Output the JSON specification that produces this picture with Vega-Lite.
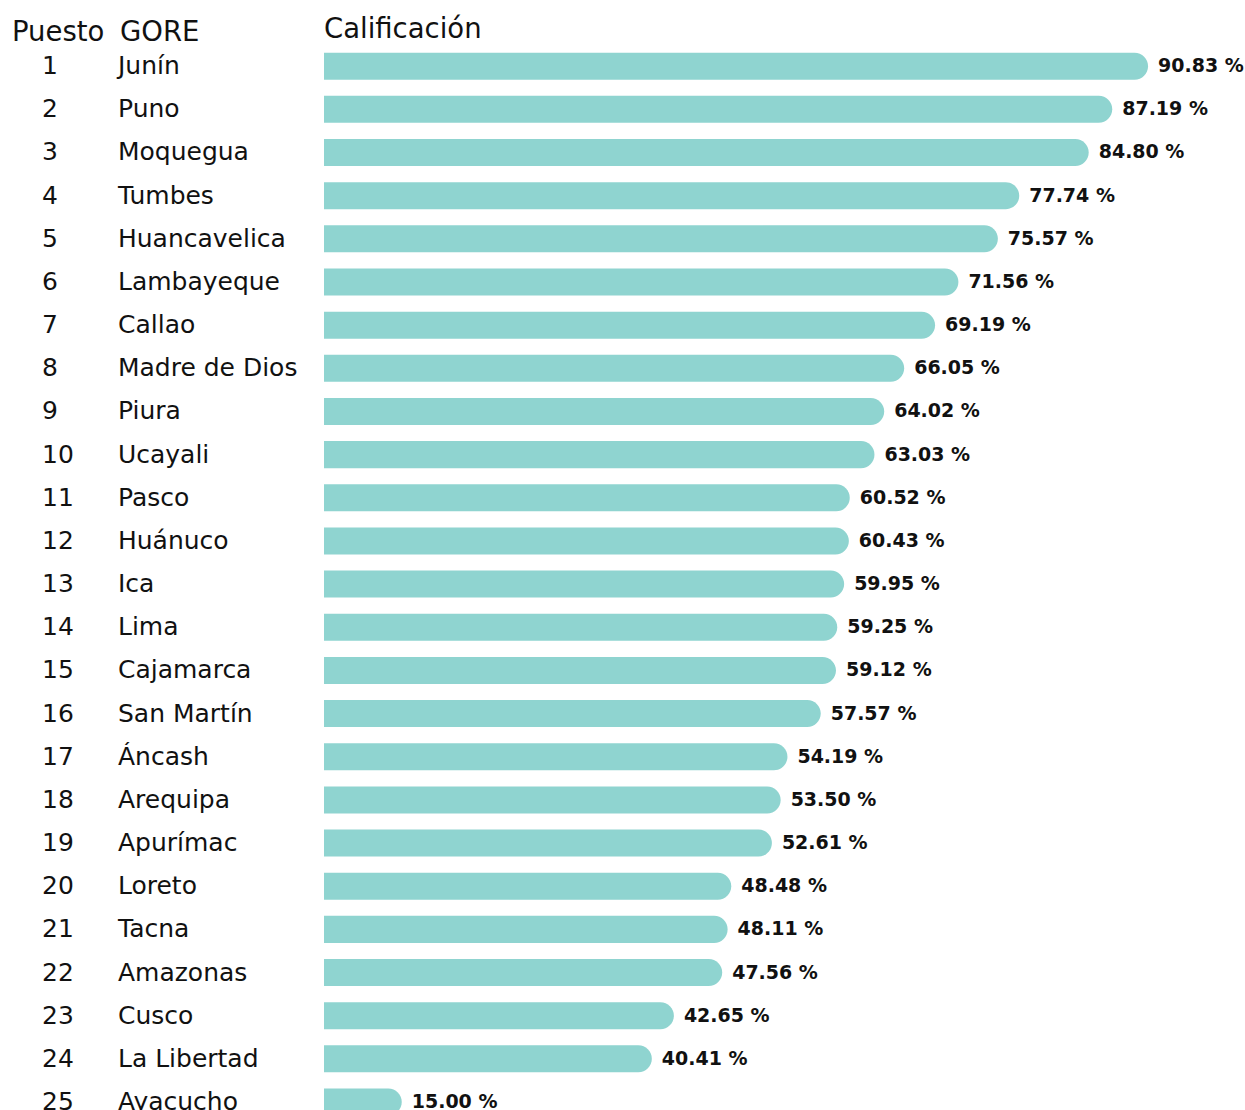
{
  "$schema": "https://vega.github.io/schema/vega-lite/v6.json",
  "autosize": {"type": "pad"},
  "padding": {"left": 12, "top": 15.6, "right": 0, "bottom": 0},
  "background": "white",
  "spacing": 0,
  "bounds": "flush",
  "config": {
    "view": {"stroke": null},
    "font": "DejaVu Sans",
    "title": {"anchor": "start", "baseline": "alphabetic", "fontSize": 27.5, "fontWeight": "normal", "color": "#111111", "font": "DejaVu Sans"}
  },
  "data": {
    "values": [
      {"puesto": 1, "gore": "Junín", "calificacion": 90.83, "etiqueta": "90.83 %"},
      {"puesto": 2, "gore": "Puno", "calificacion": 87.19, "etiqueta": "87.19 %"},
      {"puesto": 3, "gore": "Moquegua", "calificacion": 84.80, "etiqueta": "84.80 %"},
      {"puesto": 4, "gore": "Tumbes", "calificacion": 77.74, "etiqueta": "77.74 %"},
      {"puesto": 5, "gore": "Huancavelica", "calificacion": 75.57, "etiqueta": "75.57 %"},
      {"puesto": 6, "gore": "Lambayeque", "calificacion": 71.56, "etiqueta": "71.56 %"},
      {"puesto": 7, "gore": "Callao", "calificacion": 69.19, "etiqueta": "69.19 %"},
      {"puesto": 8, "gore": "Madre de Dios", "calificacion": 66.05, "etiqueta": "66.05 %"},
      {"puesto": 9, "gore": "Piura", "calificacion": 64.02, "etiqueta": "64.02 %"},
      {"puesto": 10, "gore": "Ucayali", "calificacion": 63.03, "etiqueta": "63.03 %"},
      {"puesto": 11, "gore": "Pasco", "calificacion": 60.52, "etiqueta": "60.52 %"},
      {"puesto": 12, "gore": "Huánuco", "calificacion": 60.43, "etiqueta": "60.43 %"},
      {"puesto": 13, "gore": "Ica", "calificacion": 59.95, "etiqueta": "59.95 %"},
      {"puesto": 14, "gore": "Lima", "calificacion": 59.25, "etiqueta": "59.25 %"},
      {"puesto": 15, "gore": "Cajamarca", "calificacion": 59.12, "etiqueta": "59.12 %"},
      {"puesto": 16, "gore": "San Martín", "calificacion": 57.57, "etiqueta": "57.57 %"},
      {"puesto": 17, "gore": "Áncash", "calificacion": 54.19, "etiqueta": "54.19 %"},
      {"puesto": 18, "gore": "Arequipa", "calificacion": 53.50, "etiqueta": "53.50 %"},
      {"puesto": 19, "gore": "Apurímac", "calificacion": 52.61, "etiqueta": "52.61 %"},
      {"puesto": 20, "gore": "Loreto", "calificacion": 48.48, "etiqueta": "48.48 %"},
      {"puesto": 21, "gore": "Tacna", "calificacion": 48.11, "etiqueta": "48.11 %"},
      {"puesto": 22, "gore": "Amazonas", "calificacion": 47.56, "etiqueta": "47.56 %"},
      {"puesto": 23, "gore": "Cusco", "calificacion": 42.65, "etiqueta": "42.65 %"},
      {"puesto": 24, "gore": "La Libertad", "calificacion": 40.41, "etiqueta": "40.41 %"},
      {"puesto": 25, "gore": "Ayacucho", "calificacion": 15.00, "etiqueta": "15.00 %"}
    ]
  },
  "hconcat": [
    {
      "width": 76,
      "height": 1079,
      "title": {"text": "Puesto", "dx": -30, "offset": -1.5},
      "mark": {"type": "text", "align": "left", "baseline": "middle", "fontSize": 25, "color": "#111111"},
      "encoding": {
        "y": {"field": "puesto", "type": "ordinal", "axis": null, "scale": {"paddingInner": 0.374, "paddingOuter": 0.187}},
        "x": {"datum": 0, "type": "quantitative", "scale": {"domain": [0, 1]}, "axis": null},
        "text": {"field": "puesto", "type": "nominal"}
      }
    },
    {
      "width": 206,
      "height": 1079,
      "title": {"text": "GORE", "dx": 2, "offset": -1.5},
      "mark": {"type": "text", "align": "left", "baseline": "middle", "fontSize": 25, "color": "#111111"},
      "encoding": {
        "y": {"field": "puesto", "type": "ordinal", "axis": null, "scale": {"paddingInner": 0.374, "paddingOuter": 0.187}},
        "x": {"datum": 0, "type": "quantitative", "scale": {"domain": [0, 1]}, "axis": null},
        "text": {"field": "gore", "type": "nominal"}
      }
    },
    {
      "width": 921,
      "height": 1079,
      "title": {"text": "Calificación", "dx": 0, "offset": 1},
      "encoding": {
        "y": {"field": "puesto", "type": "ordinal", "axis": null, "scale": {"paddingInner": 0.374, "paddingOuter": 0.187}},
        "x": {"field": "calificacion", "type": "quantitative", "axis": null, "scale": {"domain": [7.1, 100.68], "zero": false, "nice": false}}
      },
      "layer": [
        {
          "mark": {"type": "bar", "color": "#8fd4d0", "cornerRadiusTopRight": 13.5, "cornerRadiusBottomRight": 13.5},
          "encoding": {"x2": {"datum": 7.1}}
        },
        {
          "mark": {"type": "text", "align": "left", "baseline": "middle", "dx": 10, "fontSize": 19, "fontWeight": "bold", "color": "#111111"},
          "encoding": {"text": {"field": "etiqueta", "type": "nominal"}}
        }
      ]
    }
  ]
}
